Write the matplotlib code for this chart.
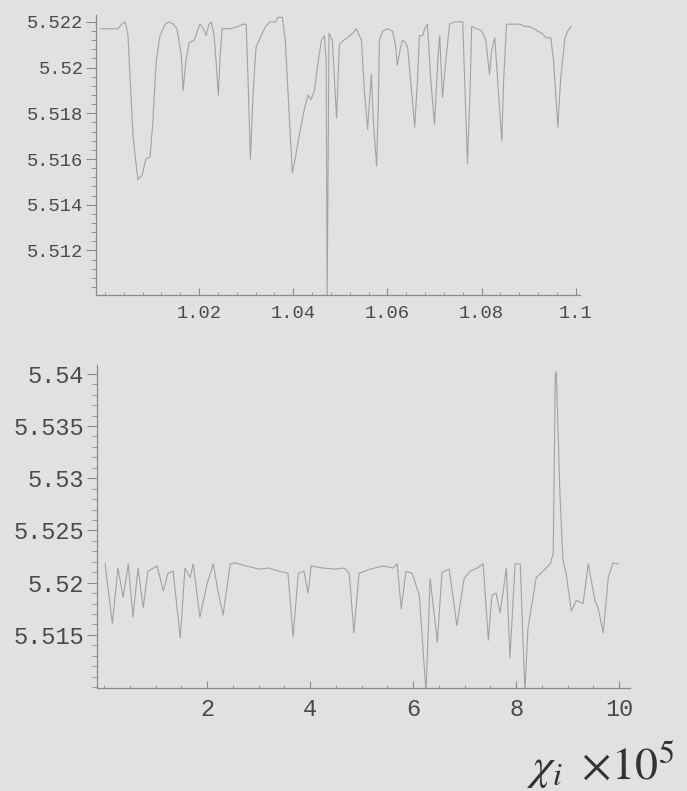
import matplotlib
matplotlib.use("Agg")
import matplotlib.pyplot as plt
from matplotlib.ticker import FixedLocator, MultipleLocator

# ---- top panel data ----
top_x = [0.9990, 1.0011, 1.0028, 1.0036, 1.0043, 1.0049, 1.0060, 1.0070, 1.0079, 1.0087,
         1.0096, 1.0102, 1.0109, 1.0117, 1.0128, 1.0136, 1.0145, 1.0153, 1.0162, 1.0166,
         1.0172, 1.0179, 1.0190, 1.0198, 1.0202, 1.0209, 1.0215, 1.0221, 1.0226, 1.0232,
         1.0236, 1.0241, 1.0245, 1.0249, 1.0266, 1.0283, 1.0294, 1.0300, 1.0304, 1.0309,
         1.0315, 1.0321, 1.0330, 1.0341, 1.0351, 1.0362, 1.0368, 1.0377, 1.0383, 1.0392,
         1.0398, 1.0404, 1.0415, 1.0426, 1.0432, 1.0438, 1.0445, 1.0453, 1.0460, 1.0466,
         1.0470, 1.0472, 1.0476, 1.0483, 1.0492, 1.0498, 1.0507, 1.0515, 1.0526, 1.0534,
         1.0538, 1.0545, 1.0551, 1.0558, 1.0562, 1.0566, 1.0570, 1.0577, 1.0581, 1.0583,
         1.0590, 1.0600, 1.0611, 1.0617, 1.0621, 1.0628, 1.0632, 1.0638, 1.0643, 1.0649,
         1.0658, 1.0664, 1.0668, 1.0675, 1.0679, 1.0685, 1.0692, 1.0700, 1.0707, 1.0711,
         1.0717, 1.0724, 1.0732, 1.0743, 1.0753, 1.0760, 1.0764, 1.0770, 1.0775, 1.0779,
         1.0790, 1.0800, 1.0809, 1.0817, 1.0821, 1.0828, 1.0834, 1.0843, 1.0847, 1.0853,
         1.0866, 1.0881, 1.0892, 1.0902, 1.0911, 1.0919, 1.0928, 1.0938, 1.0947, 1.0953,
         1.0962, 1.0968, 1.0977, 1.0983, 1.0990]
top_y = [5.5217, 5.5217, 5.5217, 5.5219, 5.5220, 5.5214, 5.5169, 5.5151, 5.5153, 5.5160,
         5.5161, 5.5177, 5.5203, 5.5214, 5.5219, 5.5220, 5.5219, 5.5217, 5.5206, 5.5190,
         5.5203, 5.5211, 5.5212, 5.5217, 5.5219, 5.5217, 5.5214, 5.5219, 5.5220, 5.5214,
         5.5203, 5.5188, 5.5206, 5.5217, 5.5217, 5.5218, 5.5219, 5.5219, 5.5195, 5.5160,
         5.5190, 5.5209, 5.5213, 5.5218, 5.5220, 5.5220, 5.5222, 5.5222, 5.5212, 5.5177,
         5.5154, 5.5160, 5.5173, 5.5184, 5.5188, 5.5186, 5.5190, 5.5203, 5.5212, 5.5214,
         5.5203, 5.5098, 5.5215, 5.5212, 5.5178, 5.5210, 5.5212, 5.5213, 5.5215, 5.5217,
         5.5215, 5.5212, 5.5190, 5.5173, 5.5186, 5.5197, 5.5177, 5.5157, 5.5186, 5.5212,
         5.5216, 5.5217, 5.5216, 5.5210, 5.5201, 5.5209, 5.5212, 5.5211, 5.5209, 5.5195,
         5.5174, 5.5195, 5.5214, 5.5214, 5.5217, 5.5219, 5.5195, 5.5175, 5.5203, 5.5214,
         5.5187, 5.5203, 5.5219, 5.5220, 5.5220, 5.5220, 5.5195, 5.5158, 5.5186, 5.5218,
         5.5217, 5.5216, 5.5212, 5.5197, 5.5207, 5.5213, 5.5195, 5.5168, 5.5195, 5.5219,
         5.5219, 5.5219, 5.5218, 5.5218, 5.5217, 5.5216, 5.5215, 5.5213, 5.5213, 5.5203,
         5.5174, 5.5195, 5.5213, 5.5216, 5.5218]
top_xticks = [1.02, 1.04, 1.06, 1.08, 1.1]
top_xticklabels = ["1.02", "1.04", "1.06", "1.08", "1.1"]
top_yticks = [5.512, 5.514, 5.516, 5.518, 5.520, 5.522]
top_yticklabels = ["5.512", "5.514", "5.516", "5.518", "5.52", "5.522"]

# ---- bottom panel data ----
bot_x = [0.02, 0.16, 0.27, 0.37, 0.47, 0.56, 0.66, 0.76, 0.85, 1.03,
         1.15, 1.24, 1.34, 1.48, 1.57, 1.67, 1.73, 1.86, 2.00, 2.12,
         2.21, 2.31, 2.45, 2.54, 2.76, 3.01, 3.18, 3.40, 3.57, 3.67,
         3.77, 3.88, 3.96, 4.02, 4.25, 4.50, 4.66, 4.76, 4.85, 4.95,
         5.17, 5.42, 5.61, 5.69, 5.77, 5.86, 5.98, 6.12, 6.25, 6.33,
         6.47, 6.56, 6.70, 6.85, 6.99, 7.11, 7.24, 7.36, 7.46, 7.53,
         7.61, 7.69, 7.81, 7.88, 7.98, 8.08, 8.17, 8.23, 8.39, 8.52,
         8.66, 8.72, 8.76, 8.78, 8.82, 8.85, 8.91, 8.97, 9.07, 9.17,
         9.30, 9.40, 9.53, 9.59, 9.69, 9.79, 9.88, 9.98]
bot_y = [5.5218, 5.5161, 5.5214, 5.5186, 5.5218, 5.5167, 5.5214, 5.5176, 5.5211, 5.5216,
         5.5192, 5.5209, 5.5211, 5.5147, 5.5214, 5.5205, 5.5218, 5.5167, 5.5199, 5.5218,
         5.5192, 5.5169, 5.5218, 5.5219, 5.5216, 5.5213, 5.5214, 5.5211, 5.5209, 5.5148,
         5.5209, 5.5211, 5.5190, 5.5216, 5.5214, 5.5213, 5.5214, 5.5209, 5.5152, 5.5209,
         5.5213, 5.5216, 5.5214, 5.5218, 5.5175, 5.5211, 5.5209, 5.5188, 5.5095, 5.5204,
         5.5143, 5.5210, 5.5213, 5.5159, 5.5204, 5.5211, 5.5214, 5.5218, 5.5145, 5.5188,
         5.5190, 5.5171, 5.5214, 5.5128, 5.5218, 5.5218, 5.5095, 5.5157, 5.5205, 5.5211,
         5.5218, 5.5228, 5.5399, 5.5402, 5.5335, 5.5285, 5.5221, 5.5209, 5.5173, 5.5183,
         5.5180, 5.5218, 5.5183, 5.5176, 5.5152, 5.5205, 5.5219, 5.5218]
bot_xticks = [2, 4, 6, 8, 10]
bot_xticklabels = ["2", "4", "6", "8", "10"]
bot_yticks = [5.515, 5.520, 5.525, 5.530, 5.535, 5.540]
bot_yticklabels = ["5.515", "5.52", "5.525", "5.53", "5.535", "5.54"]

BG = "#e1e1e1"
LINE = "#a2a2a2"
AXC = "#8a8a8a"
TXT = "#4a4a4a"
MONO = "Liberation Mono"

fig = plt.figure(figsize=(6.87, 7.91), dpi=100, facecolor=BG)

def style(ax, fs):
    ax.set_facecolor(BG)
    for s in ("top", "right"):
        ax.spines[s].set_visible(False)
    for s in ("left", "bottom"):
        ax.spines[s].set_color(AXC)
        ax.spines[s].set_linewidth(0.9)
    ax.tick_params(axis="y", which="major", direction="out", length=7, width=0.8,
                   color=AXC, labelcolor=TXT, labelsize=fs, pad=2)
    ax.tick_params(axis="y", which="minor", direction="out", length=3.5, width=0.6, color=AXC)
    ax.tick_params(axis="x", which="major", direction="in", length=5, width=0.8,
                   color=AXC, labelcolor=TXT, labelsize=fs, pad=7)
    ax.tick_params(axis="x", which="minor", direction="in", length=2.5, width=0.6, color=AXC)
    for lab in ax.get_xticklabels() + ax.get_yticklabels():
        lab.set_fontfamily(MONO)

# top panel
ax1 = fig.add_axes([0.1397, 0.627, 0.7045, 0.354])
ax1.plot(top_x, top_y, color=LINE, lw=0.8)
ax1.set_xlim(0.9981, 1.1009)
ax1.set_ylim(5.51005, 5.5223)
ax1.xaxis.set_major_locator(FixedLocator(top_xticks))
ax1.set_xticklabels(top_xticklabels)
ax1.xaxis.set_minor_locator(MultipleLocator(0.004))
ax1.yaxis.set_major_locator(FixedLocator(top_yticks))
ax1.set_yticklabels(top_yticklabels)
ax1.yaxis.set_minor_locator(MultipleLocator(0.0004))
style(ax1, 13.5)

# bottom panel
ax2 = fig.add_axes([0.141, 0.130, 0.776, 0.408])
ax2.plot(bot_x, bot_y, color=LINE, lw=0.8)
ax2.set_xlim(-0.14, 10.21)
ax2.set_ylim(5.5099, 5.5408)
ax2.xaxis.set_major_locator(FixedLocator(bot_xticks))
ax2.set_xticklabels(bot_xticklabels)
ax2.xaxis.set_minor_locator(MultipleLocator(0.5))
ax2.yaxis.set_major_locator(FixedLocator(bot_yticks))
ax2.set_yticklabels(bot_yticklabels)
ax2.yaxis.set_minor_locator(MultipleLocator(0.001))
style(ax2, 17)

plt.rcParams["mathtext.fontset"] = "stix"
fig.text(0.982, 0.032, r"$\chi_i\ \times\!10^5$", ha="right", va="center",
         fontsize=33, color="#333333")

fig.savefig("out.png", dpi=100, facecolor=BG)
